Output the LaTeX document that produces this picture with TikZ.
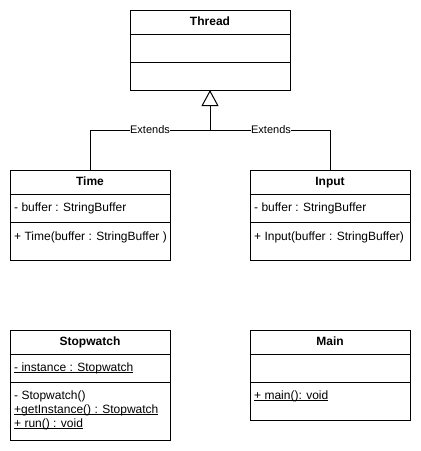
\documentclass[tikz,border=0pt]{standalone}
\usepackage{fontspec}
\setmainfont{Liberation Sans}
\usetikzlibrary{arrows.meta}
\tikzset{
  box/.style={draw=black, line width=1pt, fill=white},
  ttl/.style={font=\fontsize{12}{14}\selectfont\bfseries, anchor=center, inner sep=0pt, text height=8.6pt, text depth=2.6pt},
  mem/.style={font=\fontsize{12}{14}\selectfont, anchor=west, inner sep=0pt, text height=8.6pt, text depth=2.6pt},
  lbl/.style={font=\fontsize{11}{13}\selectfont, fill=white, inner sep=0.5pt},
  conn/.style={draw=black, line width=1pt},
  inh/.style={conn, -{Triangle[open, width=17pt, length=16pt, fill=white]}}
}
\newcommand{\ulx}[1]{\underline{\smash{#1}}}
\begin{document}
\begin{tikzpicture}[x=1pt, y=-1pt]
\useasboundingbox (0,0) rectangle (421,451);
% Thread
\draw[box] (130,10) rectangle (290,90);
\draw[conn] (130,34) -- (290,34);
\draw[conn] (130,62) -- (290,62);
\node[ttl] (thread) at (210,22) {Thread};
\coordinate (threadb) at (210,90);
% Time
\draw[box] (10,170) rectangle (170,260);
\draw[conn] (10,194) -- (170,194);
\draw[conn] (10,222) -- (170,222);
\node[ttl] (time) at (90,182) {Time};
\node[mem] (timea) at (14,208) {- buffer : StringBuffer};
\node[mem] (timem) at (14,237) {+ Time(buffer : StringBuffer )};
\coordinate (timet) at (90,170);
% Input
\draw[box] (250,170) rectangle (410,260);
\draw[conn] (250,194) -- (410,194);
\draw[conn] (250,222) -- (410,222);
\node[ttl] (input) at (330,182) {Input};
\node[mem] (inputa) at (254,208) {- buffer : StringBuffer};
\node[mem] (inputm) at (254,237) {+ Input(buffer : StringBuffer)};
\coordinate (inputt) at (330,170);
% Stopwatch
\draw[box] (10,330) rectangle (170,440);
\draw[conn] (10,354) -- (170,354);
\draw[conn] (10,382) -- (170,382);
\node[ttl] (stop) at (90,342) {Stopwatch};
\node[mem] (stopa) at (14,368) {\ulx{- instance : Stopwatch}};
\node[mem] (stopm1) at (14,396) {- Stopwatch()};
\node[mem] (stopm2) at (14,410) {\ulx{+getInstance() : Stopwatch}};
\node[mem] (stopm3) at (14,424) {\ulx{+ run() : void}};
% Main
\draw[box] (250,330) rectangle (410,420);
\draw[conn] (250,354) -- (410,354);
\draw[conn] (250,382) -- (410,382);
\node[ttl] (main) at (330,342) {Main};
\node[mem] (mainm) at (254,396) {\ulx{+ main(): void}};
% Connectors
\coordinate (j) at (210,130);
\draw[conn] (timet) |- (j);
\draw[conn] (inputt) |- (j);
\draw[inh] (j) -- (threadb);
\node[lbl] (ext1) at (150,130) {Extends};
\node[lbl] (ext2) at (271,130) {Extends};
\end{tikzpicture}
\end{document}
